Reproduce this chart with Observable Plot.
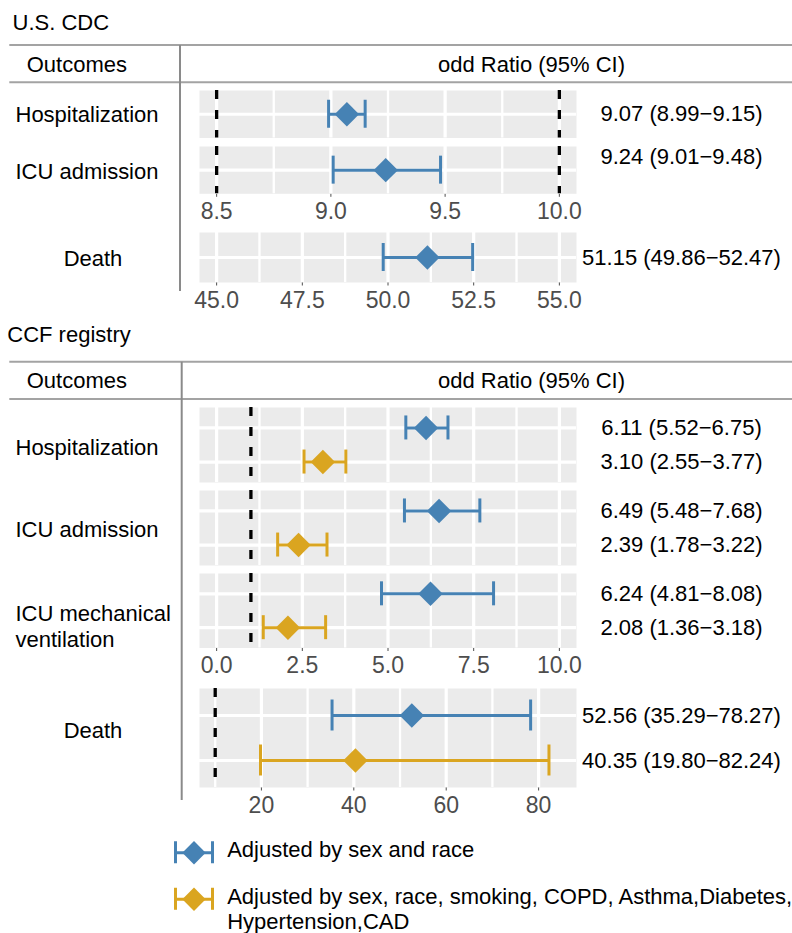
<!DOCTYPE html>
<html>
<head>
<meta charset="utf-8">
<script src="https://cdn.jsdelivr.net/npm/d3@7"></script>
<script src="https://cdn.jsdelivr.net/npm/@observablehq/plot@0.6"></script>
<style>
  body { margin: 0; background: #fff; }
  #chart { position: relative; width: 792px; height: 933px; overflow: hidden; background: #fff; }
</style>
</head>
<body>
<div id="chart"></div>
<script>
// ---------------- data ----------------
const sectionTitles = ["U.S. CDC", "CCF registry"];
const headerLabels = ["Outcomes", "odd Ratio (95% CI)"];
const seriesNames = ["Adjusted by sex and race",
  "Adjusted by sex, race, smoking, COPD, Asthma,Diabetes,\nHypertension,CAD"];
const seriesColors = ["#4682B4", "#DAA520"];

const cdcOutcomes = ["Hospitalization", "ICU admission", "Death"];
const cdcEstimate = [9.07, 9.24, 51.15];
const cdcLower    = [8.99, 9.01, 49.86];
const cdcUpper    = [9.15, 9.48, 52.47];

const ccfOutcomes = ["Hospitalization", "ICU admission", "ICU mechanical\nventilation", "Death"];
const ccfEstimateA = [6.11, 6.49, 6.24, 52.56];
const ccfLowerA    = [5.52, 5.48, 4.81, 35.29];
const ccfUpperA    = [6.75, 7.68, 8.08, 78.27];
const ccfEstimateB = [3.10, 2.39, 2.08, 40.35];
const ccfLowerB    = [2.55, 1.78, 1.36, 19.80];
const ccfUpperB    = [3.77, 3.22, 3.18, 82.24];

const cdcSmallTicks = [8.5, 9.0, 9.5, 10.0];
const cdcDeathTicks = [45.0, 47.5, 50.0, 52.5, 55.0];
const ccfSmallTicks = [0, 2.5, 5, 7.5, 10];
const ccfDeathTicks = [20, 40, 60, 80];
const cdcSmallRefs = [8.5, 10.0];
const ccfSmallRefs = [1];
const ccfDeathRefs = [10];

// ---------------- helpers ----------------
const FONT = '"Liberation Sans", Arial, Helvetica, sans-serif';
const root = document.getElementById("chart");
const fmtCI = (e, l, u) => `${e.toFixed(2)} (${l.toFixed(2)}\u2212${u.toFixed(2)})`;
const diamond = {
  draw(ctx, size) {
    const r = Math.sqrt(size) * 0.62625;
    ctx.moveTo(0, -r); ctx.lineTo(r, 0); ctx.lineTo(0, r); ctx.lineTo(-r, 0); ctx.closePath();
  }
};
function minorsOf(ticks, domain) {
  const step = ticks[1] - ticks[0];
  const lo = Math.min(...domain), hi = Math.max(...domain);
  return [ticks[0] - step / 2, ...ticks.map(t => t + step / 2)].filter(v => v > lo && v < hi);
}
function place(node, top) {
  const d = document.createElement("div");
  d.style.position = "absolute"; d.style.left = "0px"; d.style.top = top + "px"; d.style.width = "792px";
  d.appendChild(node); root.appendChild(d);
}

function panel(o) {
  const n = o.rows.length;
  const H = o.height, mb = o.axis ? 36 : 0;
  const unit = H / (n + 0.2);
  const capH = o.cap / unit;
  const minors = minorsOf(o.ticks, o.domain);
  return Plot.plot({
    width: 792, height: H + mb,
    marginLeft: 199, marginRight: 216, marginTop: 0, marginBottom: mb,
    style: {fontFamily: FONT, fontSize: "23px", color: "#4d4d4d", background: "transparent", overflow: "visible"},
    x: {domain: o.domain, ticks: o.ticks, tickFormat: o.fmt, tickSize: 3.5, tickPadding: 5.5, label: null, axis: o.axis ? "bottom" : null},
    y: {domain: [n + 0.6, 0.4], axis: null},
    color: {type: "identity"},
    marks: [
      Plot.frame({fill: "#ebebeb", stroke: "none"}),
      Plot.ruleX(minors, {stroke: "white", strokeWidth: 2.3}),
      Plot.ruleX(o.ticks, {stroke: "white", strokeWidth: 3.2}),
      Plot.ruleY(o.rows, {y: "i", stroke: "white", strokeWidth: 3.2}),
      o.refs.length ? Plot.ruleX(o.refs, {stroke: "black", strokeWidth: 3.3, strokeDasharray: "9,11"}) : null,
      Plot.ruleY(o.rows, {y: "i", x1: "lo", x2: "hi", stroke: "color", strokeWidth: 3}),
      Plot.ruleX(o.rows, {x: "lo", y1: d => d.i - capH, y2: d => d.i + capH, stroke: "color", strokeWidth: 3}),
      Plot.ruleX(o.rows, {x: "hi", y1: d => d.i - capH, y2: d => d.i + capH, stroke: "color", strokeWidth: 3}),
      Plot.dot(o.rows, {x: "est", y: "i", fill: "color", stroke: "none", r: 11, symbol: diamond}),
      Plot.text(o.rows, {y: "i", text: "label", frameAnchor: "right", dx: 105, dy: o.valueDy || 0,
        textAnchor: "middle", fontSize: 22, fill: "black"}),
      Plot.text([o.outcome], {text: d => d, frameAnchor: "left", dx: o.labelX - 199, dy: o.labelDy || 0,
        textAnchor: o.labelAnchor, fontSize: 22, fill: "black", lineHeight: 1.2})
    ]
  });
}

// ---------------- CDC panels ----------------
const fmt1 = d3.format(".1f");
const cdcRow = k => [{i: 1, est: cdcEstimate[k], lo: cdcLower[k], hi: cdcUpper[k], color: seriesColors[0],
  label: fmtCI(cdcEstimate[k], cdcLower[k], cdcUpper[k])}];

place(panel({rows: cdcRow(0), outcome: cdcOutcomes[0], domain: [8.425, 10.075], ticks: cdcSmallTicks,
  refs: cdcSmallRefs, height: 47.5, cap: 14, axis: false, fmt: fmt1, labelX: 15, labelAnchor: "start", labelDy: -1}), 90.3);
place(panel({rows: cdcRow(1), outcome: cdcOutcomes[1], domain: [8.425, 10.075], ticks: cdcSmallTicks,
  refs: cdcSmallRefs, height: 47.3, cap: 14, axis: true, fmt: fmt1, labelX: 15, labelAnchor: "start", valueDy: -13}), 146);
place(panel({rows: cdcRow(2), outcome: cdcOutcomes[2], domain: [44.5, 55.5], ticks: cdcDeathTicks,
  refs: [], height: 50, cap: 14, axis: true, fmt: fmt1, labelX: 92.5, labelAnchor: "middle"}), 231.7);

// ---------------- CCF panels ----------------
const ccfRows = k => [
  {i: 1, est: ccfEstimateA[k], lo: ccfLowerA[k], hi: ccfUpperA[k], color: seriesColors[0],
    label: fmtCI(ccfEstimateA[k], ccfLowerA[k], ccfUpperA[k])},
  {i: 2, est: ccfEstimateB[k], lo: ccfLowerB[k], hi: ccfUpperB[k], color: seriesColors[1],
    label: fmtCI(ccfEstimateB[k], ccfLowerB[k], ccfUpperB[k])}
];
place(panel({rows: ccfRows(0), outcome: ccfOutcomes[0], domain: [-0.5, 10.5], ticks: ccfSmallTicks,
  refs: ccfSmallRefs, height: 75, cap: 12, axis: false, fmt: fmt1, labelX: 15, labelAnchor: "start", labelDy: 2}), 407);
place(panel({rows: ccfRows(1), outcome: ccfOutcomes[1], domain: [-0.5, 10.5], ticks: ccfSmallTicks,
  refs: ccfSmallRefs, height: 75, cap: 12, axis: false, fmt: fmt1, labelX: 15, labelAnchor: "start", labelDy: 1}), 490);
place(panel({rows: ccfRows(2), outcome: ccfOutcomes[2], domain: [-0.5, 10.5], ticks: ccfSmallTicks,
  refs: ccfSmallRefs, height: 74.5, cap: 12, axis: true, fmt: fmt1, labelX: 15, labelAnchor: "start", labelDy: 14.5}), 573);
place(panel({rows: ccfRows(3), outcome: ccfOutcomes[3], domain: [6.6, 88.2], ticks: ccfDeathTicks,
  refs: ccfDeathRefs, height: 99, cap: 15.5, axis: true, fmt: d3.format("d"), labelX: 92.5, labelAnchor: "middle", labelDy: -8}), 688.3);

// ---------------- legend ----------------
const legendRows = seriesNames.map((name, k) => ({i: k + 1, name, color: seriesColors[k]}));
const legCap = 11 / 46.5;
place(Plot.plot({
  width: 792, height: 100, marginLeft: 175, marginRight: 580, marginTop: 0, marginBottom: 0,
  style: {fontFamily: FONT, background: "transparent", overflow: "visible"},
  x: {domain: [0, 1], axis: null},
  y: {domain: [0.5, 2.65], range: [0, 100], axis: null},
  color: {type: "identity"},
  marks: [
    Plot.ruleY(legendRows, {y: "i", x1: 0, x2: 1, stroke: "color", strokeWidth: 3}),
    Plot.ruleX(legendRows, {x: 0, y1: d => d.i - legCap, y2: d => d.i + legCap, stroke: "color", strokeWidth: 3}),
    Plot.ruleX(legendRows, {x: 1, y1: d => d.i - legCap, y2: d => d.i + legCap, stroke: "color", strokeWidth: 3}),
    Plot.dot(legendRows, {x: 0.5, y: "i", fill: "color", stroke: "none", r: 10.5, symbol: diamond}),
    Plot.text(legendRows, {x: 1, y: "i", text: "name", dx: 14.7, dy: -13, textAnchor: "start", lineAnchor: "top",
      fontSize: 22, fill: "black", lineHeight: 1.13})
  ]
}), 829);

// ---------------- table rules & headers ----------------
const ov = d3.create("svg").attr("width", 792).attr("height", 933)
  .style("position", "absolute").style("left", "0px").style("top", "0px")
  .style("font-family", FONT).style("pointer-events", "none");
const sections = [
  {title: sectionTitles[0], titleX: 12.5, titleY: 29.8, r1: 45, r2: 82.3, vx: 180, vy2: 291, hy: 71.5},
  {title: sectionTitles[1], titleX: 7.3, titleY: 341.5, r1: 361.7, r2: 399, vx: 181.7, vy2: 800, hy: 387.8}
];
for (const s of sections) {
  ov.append("text").attr("x", s.titleX).attr("y", s.titleY).attr("font-size", 22).attr("fill", "black").text(s.title);
  ov.append("line").attr("x1", 9.3).attr("x2", 792).attr("y1", s.r1).attr("y2", s.r1).attr("stroke", "#a3a3a3").attr("stroke-width", 2);
  ov.append("line").attr("x1", 9.3).attr("x2", 792).attr("y1", s.r2).attr("y2", s.r2).attr("stroke", "#a3a3a3").attr("stroke-width", 2);
  ov.append("line").attr("x1", s.vx).attr("x2", s.vx).attr("y1", s.r1).attr("y2", s.vy2).attr("stroke", "#8a8a8a").attr("stroke-width", 2);
  ov.append("text").attr("x", 26.7).attr("y", s.hy).attr("font-size", 22).attr("fill", "black").text(headerLabels[0]);
  ov.append("text").attr("x", 531.5).attr("y", s.hy).attr("font-size", 22).attr("fill", "black").attr("text-anchor", "middle").text(headerLabels[1]);
}
root.appendChild(ov.node());
</script>
</body>
</html>
